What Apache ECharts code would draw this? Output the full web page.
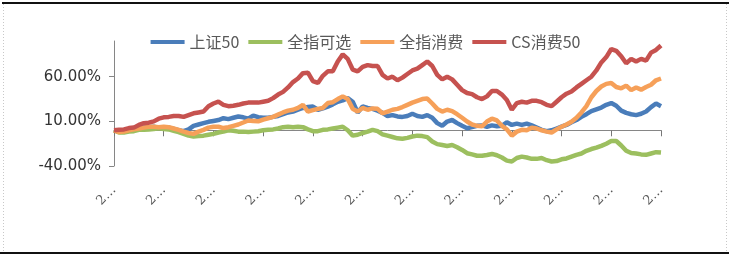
<!DOCTYPE html>
<html>
<head>
<meta charset="utf-8">
<script src="https://cdn.jsdelivr.net/npm/echarts@6/dist/echarts.min.js"></script>
<style>
html,body{margin:0;padding:0;background:#fff;}
#chart{width:731px;height:258px;}
</style>
</head>
<body>
<div id="chart"></div>
<script>
// Series names (legend)
var seriesNames = ['上证50', '全指可选', '全指消费', 'CS消费50'];

// Y axis tick values (percent)
var yTicks = [-40, 10, 60];

// Categories: trading dates (labels are shown truncated as "2…")
var categories = [];
(function () {
  var d = new Date(Date.UTC(2014, 0, 3));
  for (var i = 0; i < 111; i++) {
    categories.push(d.toISOString().slice(0, 10));
    d = new Date(d.getTime() + 14 * 86400000);
  }
})();

// Cumulative returns in %
var sz50 = [0,-1.5,-1,0.5,1.5,2.5,3,3.5,4,3,3.5,3,1.5,0,-1,1,5,6.5,8,9.5,
  10.5,11.5,13.5,12.5,14,15.4,14.5,13,16.5,14.7,14,14,15,16,18,20,21,23,25,26,
  26.6,23,24.5,26.5,29,32,33.5,36,32,20,26.6,25,24,22,19.5,16,17,15.5,15,16,
  18.5,16,15,17,14,8,5,9.8,11.5,8,5,2.3,3.5,5,5.5,4,5.5,4.5,5,9,
  6,7.5,6,7.5,5.5,3,0.5,-1,0,2,4,6,9,11.5,15,18,21.5,23.5,25.5,28.5,
  30.5,27.5,22,19.5,18,17,18.5,21,26,30,27];

var qzkx = [0,-2.5,-2.5,-1.5,-1,0.5,0.5,1,1.5,2.3,1.5,1,-0.5,-2,-4,-6,-7,-6.5,-6,-5,
  -4,-2.5,-1.5,0,-0.5,-1.5,-1.5,-2,-1.5,-1,0,0.5,1,2,3.5,4,3.5,4,3.5,1,
  -1,-1,0.5,1,2,3,4,0,-6,-5,-3,-1.5,0.5,-1,-4.5,-6,-7.5,-9,-9.5,-8.5,
  -7,-6,-6.5,-7.7,-12.5,-15.5,-16.5,-17.5,-16.5,-19,-22,-25.7,-27,-28.5,-28.5,-27.6,-26.5,-28,-30.5,-34,
  -35,-31,-29.5,-30.5,-32,-32,-31,-33.5,-35,-34.5,-32.5,-31.5,-29.5,-27.5,-26,-23,-21,-19.5,-17.5,-15,
  -12,-12,-17,-23,-25.5,-26,-27,-27.5,-26,-24.5,-25];

var qzxf = [0,-2,-1.5,0,1,2,3,4,4,3.5,4,3.5,2,0.5,-1.5,-3,-4,-1.5,0.5,3,
  4,4,2.5,3.5,5,6.5,8.7,11,10.5,10,12,13.5,15,17.5,20,22,23,25,28.5,21,
  22.5,24,25,30.5,31.5,35,38,35,24,21,25,23,24.5,24,19,21,23,24,26,28.5,
  31,33,35,35.5,30,24,21,23,21.5,18,14,9.8,6.5,5,4.5,9.8,13,11,5,1,
  -6,-1.5,0.5,0,3,2,0,-1.5,-2.5,1,4,6.5,9.5,14,20,27,37,44,49,52,
  53,48.5,47,50,45,48,45.5,48.5,51,56,58];

var csxf50 = [0,0.5,1,2.5,3,6,8,8.5,10,13,14.5,15,16,16,15,17,19,20,21,27,
  30,32,28.5,27,27.5,28.5,30,31,31,31,32,33,36,40,43,48,54,58,64,64.5,
  55,53,61,66,66,77,85,80,68,66,71,73,72,72,62,58,60,56,59,63,
  67,69,73,77,72,62,57,60,57,51,45,41.7,40.5,37,35,38,44,44,40,34,
  23,30.5,32,31,33,33,31.5,28.5,27,32,37,41,43.5,48,52,56,60,67,76,82,
  91,89,83,75,80,77,80,78,87,90,95];

var colors = ['#4a7dba', '#9cbf5f', '#f6a059', '#c6524f'];
var seriesData = [sz50, qzkx, qzxf, csxf50];

var chart = echarts.init(document.getElementById('chart'), null, {renderer: 'canvas'});

var series = seriesNames.map(function (name, i) {
  return {
    name: name,
    type: 'line',
    data: seriesData[i],
    showSymbol: false,
    symbol: 'none',
    smooth: false,
    lineStyle: {width: 4.5, color: colors[i]},
    itemStyle: {color: colors[i]},
    emphasis: {disabled: true},
    animation: false
  };
});

chart.setOption({
  animation: false,
  backgroundColor: '#ffffff',
  legend: {
    data: seriesNames,
    left: 'center',
    top: 29,
    icon: 'rect',
    itemWidth: 34,
    itemHeight: 4,
    itemGap: 9,
    textStyle: {fontFamily: 'Noto Sans CJK SC', fontSize: 16, color: '#595959'}
  },
  grid: {left: 114, right: 70, top: 41, bottom: 92, containLabel: false},
  xAxis: [{
    type: 'category',
    data: categories,
    boundaryGap: false,
    axisLine: {show: true, onZero: true, lineStyle: {color: '#868686', width: 1}},
    axisTick: {show: true, interval: 9, length: 6, inside: false, lineStyle: {color: '#777777'}},
    axisLabel: {show: false},
    splitLine: {show: false}
  }, {
    type: 'category',
    data: categories,
    boundaryGap: false,
    position: 'bottom',
    axisLine: {show: false, onZero: false},
    axisTick: {show: false},
    axisLabel: {
      show: true,
      interval: 9,
      rotate: 45,
      margin: 22,
      fontFamily: 'DejaVu Serif',
      fontSize: 13,
      color: '#595959',
      formatter: function (v) { return v.charAt(0) + '…'; }
    },
    splitLine: {show: false}
  }],
  yAxis: {
    type: 'value',
    min: -40,
    max: 100,
    axisLine: {show: true, lineStyle: {color: '#868686', width: 1}},
    axisTick: {show: true, length: 5, customValues: yTicks, lineStyle: {color: '#868686'}},
    axisLabel: {
      show: true,
      customValues: yTicks,
      margin: 13,
      fontFamily: 'DejaVu Sans',
      fontSize: 15,
      color: '#333333',
      formatter: function (v) { return v.toFixed(2) + '%'; }
    },
    splitLine: {show: false}
  },
  graphic: [
    {type: 'line', shape: {x1: 2, y1: 3, x2: 729, y2: 3}, style: {stroke: '#111', lineWidth: 2}, silent: true},
    {type: 'line', shape: {x1: 0, y1: 253, x2: 729, y2: 253}, style: {stroke: '#111', lineWidth: 2}, silent: true},
    {type: 'line', shape: {x1: 3.5, y1: 4, x2: 3.5, y2: 252}, style: {stroke: '#c8c8c8', lineWidth: 1, lineDash: [1, 2]}, silent: true},
    {type: 'line', shape: {x1: 726.5, y1: 4, x2: 726.5, y2: 252}, style: {stroke: '#c8c8c8', lineWidth: 1, lineDash: [1, 2]}, silent: true}
  ],
  series: series
});
</script>
</body>
</html>
